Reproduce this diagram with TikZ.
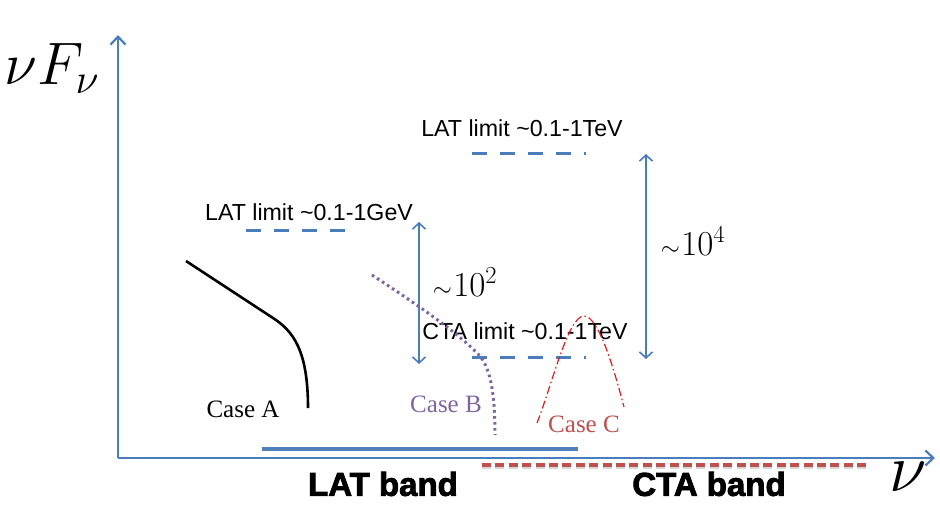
\RequirePackage{fix-cm}
\documentclass[tikz,border=0pt]{standalone}
\usepackage{fontspec}
\setmainfont{Liberation Serif}
\setsansfont{Liberation Sans}
\newfontfamily\heavysans[FakeBold=2.5]{Liberation Sans Bold}
\usetikzlibrary{arrows.meta}
\definecolor{axblue}{RGB}{74,126,187}
\definecolor{bandblue}{RGB}{79,129,189}
\definecolor{cred}{RGB}{192,80,77}
\definecolor{cpurple}{RGB}{128,100,162}
\definecolor{lred}{RGB}{220,30,30}
\tikzset{
  axisline/.style={draw=axblue, line width=2.2pt, -{Straight Barb[length=8pt,width=15pt,line width=2.2pt]}},
  dblarrow/.style={draw=axblue, line width=1.6pt, {Straight Barb[length=6pt,width=13pt]}-{Straight Barb[length=6pt,width=13pt]}},
  limitline/.style={draw=axblue, line width=3pt, dash pattern=on 15pt off 13pt},
  limittext/.style={font=\sffamily\fontsize{23.2}{26}\selectfont, text=black, inner sep=0pt},
  casetext/.style={font=\rmfamily\fontsize{25}{28}\selectfont, inner sep=0pt},
  bandtext/.style={font=\heavysans\fontsize{33}{38}\selectfont, inner sep=0pt},
  mathtext/.style={inner sep=0pt}
}
\begin{document}
\begin{tikzpicture}[x=1pt,y=-1pt]
\useasboundingbox (0,0) rectangle (940,504);
% axes
\coordinate (O) at (118,458);
\coordinate (Ytop) at (118,35);
\coordinate (Xend) at (935,458);
\draw[axisline] (O) -- (Ytop);
\draw[axisline] (O) -- (Xend);
\node[mathtext, font=\fontsize{60}{70}\selectfont] (nuF) at (52,68) {$\nu F_{\nu}$};
\node[mathtext, font=\fontsize{68}{78}\selectfont] (nu) at (908,477) {$\nu$};
% limits
\coordinate (g1) at (246,230); \coordinate (g2) at (347,230);
\coordinate (t1) at (472,153); \coordinate (t2) at (586,153);
\coordinate (c1) at (472,357); \coordinate (c2) at (586,357);
\draw[limitline] (g1) -- (g2);
\draw[limitline] (t1) -- (t2);
\draw[limitline] (c1) -- (c2);
\node[limittext] (latGeV) at (309,212) {LAT limit \textasciitilde 0.1-1GeV};
\node[limittext] (latTeV) at (522,128) {LAT limit \textasciitilde 0.1-1TeV};
\node[limittext] (ctaTeV) at (525,331) {CTA limit \textasciitilde 0.1-1TeV};
% double arrows
\coordinate (a2t) at (419,222); \coordinate (a2b) at (419,364);
\coordinate (a4t) at (646,154); \coordinate (a4b) at (646,359);
\draw[dblarrow] (a2t) -- (a2b);
\draw[dblarrow] (a4t) -- (a4b);
\node[mathtext, font=\fontsize{35}{40}\selectfont] (sim2) at (465,282) {$\scriptstyle\sim\!\!\textstyle 10^2$};
\node[mathtext, font=\fontsize{35}{40}\selectfont] (sim4) at (693,241) {$\scriptstyle\sim\!\!\textstyle 10^4$};
% Case A
\coordinate (A0) at (186,261); \coordinate (A1) at (273,318); \coordinate (A2) at (308,408);
\draw[black, line width=2.6pt] (A0) -- (A1) .. controls (293,331) and (308,350) .. (A2);
\node[casetext, text=black] (caseA) at (243,409) {Case A};
% Case B
\coordinate (B0) at (372,275); \coordinate (B1) at (478,354); \coordinate (B2) at (495,435);
\draw[cpurple, line width=3pt, dash pattern=on 2.6pt off 3.4pt]
  (B0) .. controls (410,300) and (455,330) .. (B1) .. controls (492,368) and (495,400) .. (B2);
\node[casetext, text=cpurple] (caseB) at (446,404) {Case B};
% Case C
\coordinate (C0) at (537,423); \coordinate (C1) at (584,316); \coordinate (C2) at (624,407);
\draw[lred, line width=1.2pt, dash pattern=on 8pt off 3pt on 1.5pt off 3pt]
  (C0) .. controls (552,385) and (568,316) .. (C1) .. controls (598,316) and (613,365) .. (C2);
\node[casetext, text=cred] (caseC) at (584,424) {Case C};
% bands
\coordinate (L1) at (262,449); \coordinate (L2) at (578,449);
\draw[bandblue, line width=4pt] (L1) -- (L2);
\coordinate (R1) at (482,465); \coordinate (R2) at (868,465);
\draw[black!40, opacity=0.4, line width=4pt, dash pattern=on 9pt off 4.4pt] ([yshift=-2pt]R1) -- ([yshift=-2pt]R2);
\draw[cred, line width=4pt, dash pattern=on 9pt off 4.4pt] (R1) -- (R2);
\node[bandtext] (latband) at (383,484) {LAT band};
\node[bandtext] (ctaband) at (709,484) {CTA band};
\end{tikzpicture}
\end{document}
